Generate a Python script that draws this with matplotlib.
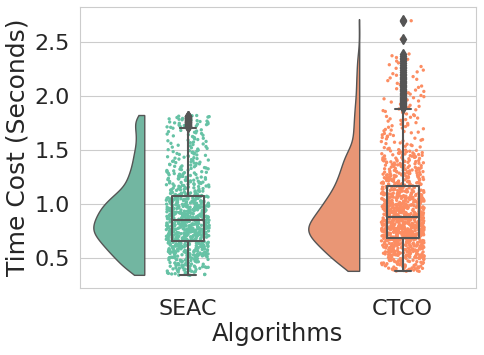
import matplotlib
matplotlib.use("Agg")
import matplotlib.pyplot as plt
import numpy as np
import pandas as pd
import seaborn as sns

# How many runs fall in each time band (seconds)
algorithms = ["SEAC", "CTCO"]
seac_edges = [0.336, 0.4, 0.5, 0.6, 0.7, 0.8, 0.9, 1.0, 1.1, 1.2, 1.3, 1.4, 1.5, 1.6, 1.69, 1.70, 1.82]
seac_counts = [23, 52, 75, 94, 114, 104, 94, 73, 42, 34, 26, 23, 17, 16, 0, 29]
ctco_edges = [0.373, 0.4, 0.5, 0.6, 0.7, 0.8, 0.9, 1.0, 1.1, 1.2, 1.3, 1.4, 1.5, 1.6,
              1.7, 1.8, 1.9, 2.0, 2.1, 2.2, 2.3, 2.4]
ctco_counts = [13, 58, 91, 117, 150, 124, 104, 85, 65, 55, 45, 39, 16, 16, 14, 13, 10, 8, 8, 6, 6]
ctco_extreme = [2.53, 2.70, 2.71]

ylim = (0.216, 2.83)
yticks = [0.5, 1.0, 1.5, 2.0, 2.5]


def spread(edges, counts):
    vals = []
    for lo, hi, n in zip(edges[:-1], edges[1:], counts):
        if n == 0:
            continue
        step = (hi - lo) / n
        vals.extend(lo + step * (np.arange(n) + 0.5))
    return np.array(vals)


seac = spread(seac_edges, seac_counts)
seac = np.concatenate([[seac_edges[0], seac_edges[-1]], seac])
ctco = spread(ctco_edges, ctco_counts)
ctco = np.concatenate([[ctco_edges[0]], ctco, ctco_extreme])
groups = [seac, ctco]

df = pd.DataFrame({
    "Algorithms": ["SEAC"] * len(seac) + ["CTCO"] * len(ctco),
    "Time": np.concatenate(groups),
})

sns.set_style("whitegrid")
pal = sns.color_palette("Set2", 2)

fig = plt.figure(figsize=(4.84, 3.55), dpi=100)
ax = fig.add_axes([0.165, 0.188, 0.818, 0.793])

# half violins (cloud), cut at data range
for i, vals in enumerate(groups):
    bw = 0.2 * vals.std(ddof=1)
    grid = np.linspace(vals.min(), vals.max(), 300)
    dens = np.exp(-0.5 * ((grid[:, None] - vals[None, :]) / bw) ** 2).sum(axis=1)
    dens = dens / dens.max() * 0.237
    right = i - 0.2
    xs = np.concatenate([[right], right - dens, [right]])
    ys = np.concatenate([[grid[0]], grid, [grid[-1]]])
    ax.fill(xs, ys, color=sns.desaturate(pal[i], 0.75), ec="#555555", lw=1.0, zorder=2)

# rain
np.random.seed(3)
sns.stripplot(data=df, x="Algorithms", y="Time", hue="Algorithms", order=algorithms,
              palette=pal, jitter=0.1, size=2.4, linewidth=0, legend=False, ax=ax, zorder=3)

# box on top
ax.boxplot(groups, positions=[0, 1], widths=0.15, patch_artist=False, manage_ticks=False,
           boxprops=dict(color="#555555", lw=1.5),
           whiskerprops=dict(color="#555555", lw=1.5),
           capprops=dict(color="#555555", lw=1.5),
           medianprops=dict(color="#555555", lw=1.5),
           flierprops=dict(marker="d", markerfacecolor="#555555", markeredgecolor="#555555",
                           markersize=5),
           zorder=4)

ax.set_xlim(-0.502, 1.34)
ax.set_ylim(*ylim)
ax.set_yticks(yticks)
ax.set_xticks([0, 1])
ax.set_xticklabels(algorithms)
ax.tick_params(labelsize=16, colors="#262626", length=0)
ax.tick_params(axis="x", pad=8)
ax.tick_params(axis="y", pad=7)
ax.xaxis.grid(False)
ax.set_xlabel("Algorithms", fontsize=17.5, color="#262626", labelpad=2)
ax.set_ylabel("Time Cost (Seconds)", fontsize=18, color="#262626", labelpad=4)

fig.savefig("out.png", dpi=100)
